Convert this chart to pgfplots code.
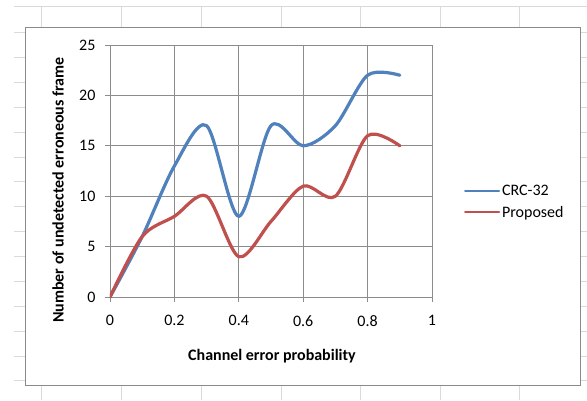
\documentclass[border=0pt]{standalone}
\usepackage{fontspec}
\setmainfont{Carlito}
\usepackage{pgfplots}
\pgfplotsset{compat=1.18}
\definecolor{xlblue}{HTML}{4F81BD}
\definecolor{xlred}{HTML}{C0504D}
\definecolor{gridgray}{HTML}{8C8C8C}
\definecolor{sheetgray}{HTML}{D8DADC}
\definecolor{bordergray}{HTML}{8A8A8A}
\begin{document}
\begin{tikzpicture}
\path[use as bounding box] (0pt,0pt) rectangle (587pt,400pt);
% spreadsheet background lines
\foreach \x in {41,121,201,281,360,440,519} {
  \draw[sheetgray, line width=0.8pt] (\x pt,394pt) -- (\x pt,372pt);
  \draw[sheetgray, line width=0.8pt] (\x pt,15pt) -- (\x pt,0pt);
}
\draw[sheetgray, line width=0.8pt] (14pt,394pt) -- (587pt,394pt);
\foreach \y in {32,57,82,107,132,157,181,206,231,256,281,306,331,356,380} {
  \draw[sheetgray, line width=0.8pt] (14pt,400pt-\y pt) -- (25pt,400pt-\y pt);
  \draw[sheetgray, line width=0.8pt] (580pt,400pt-\y pt) -- (587pt,400pt-\y pt);
}
% chart area
\draw[bordergray, fill=white, line width=1pt] (25.5pt,15pt) rectangle (580pt,372pt);
\begin{axis}[
  at={(110pt,103pt)}, anchor=south west,
  scale only axis, width=322pt, height=252pt,
  xmin=0, xmax=1, ymin=0, ymax=25,
  xtick={0,0.2,0.4,0.6,0.8,1}, ytick={0,5,10,15,20,25},
  grid=major, grid style={gridgray, line width=0.8pt},
  axis line style={gridgray, line width=0.8pt},
  tick style={gridgray, line width=0.8pt},
  tick align=outside, tick pos=left, major tick length=5pt,
  /pgf/number format/assume math mode=true,
  ticklabel style={font=\fontsize{16}{18}\selectfont},
  xticklabel style={yshift=-10pt},
  yticklabel style={xshift=-6pt},
  xlabel={Channel error probability},
  ylabel={Number of undetected erroneous frame},
  xlabel style={at={(axis description cs:0.503,-0.234)}, anchor=center, font=\fontsize{16}{18}\selectfont\bfseries},
  ylabel style={at={(axis description cs:-0.1615,0.4246)}, anchor=center, font=\fontsize{16}{18}\selectfont\bfseries},
  legend style={at={(1.099,0.377)}, anchor=west, draw=none, fill=none,
    font=\fontsize{16}{18}\selectfont, row sep=5pt, inner sep=0pt,
    cells={anchor=west}},
  legend image code/.code={\draw[#1, line width=2pt] (0pt,0pt) -- (34pt,0pt);},
]
\addplot[xlblue, line width=3.2pt, smooth, line cap=round, line join=round]
  coordinates {(0,0) (0.1,6) (0.2,13) (0.3,17) (0.4,8) (0.5,17) (0.6,15) (0.7,17) (0.8,22) (0.9,22)};
\addlegendentry{CRC-32}
\addplot[xlred, line width=3.2pt, smooth, line cap=round, line join=round]
  coordinates {(0,0) (0.1,6) (0.2,8) (0.3,10) (0.4,4) (0.5,7.5) (0.6,11) (0.7,10) (0.8,16) (0.9,15)};
\addlegendentry{Proposed}
\end{axis}
\end{tikzpicture}
\end{document}
